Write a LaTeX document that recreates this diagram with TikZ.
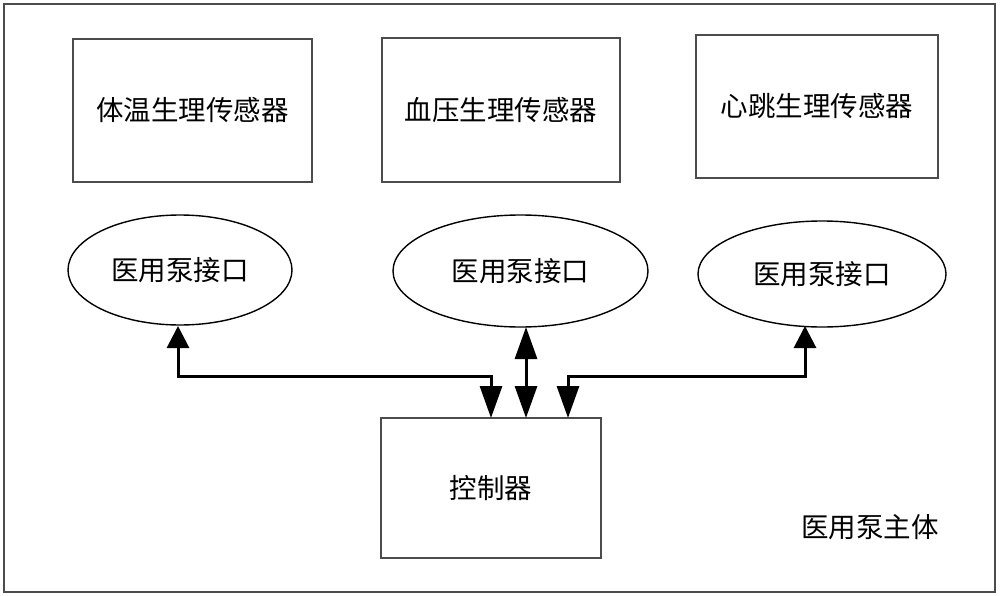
\documentclass[tikz,border=0pt]{standalone}
\usepackage{fontspec}
\newfontfamily\cjk{Noto Sans CJK SC}
\usetikzlibrary{arrows.meta,shapes.geometric}
\begin{document}
\begin{tikzpicture}[x=1pt,y=-1pt,
  lbl/.style={font=\cjk\fontsize{27.5}{32}\selectfont},
  sensor/.style={draw=black!70,line width=1.4pt,minimum width=239pt,minimum height=143pt,inner sep=0pt,lbl},
  port/.style={ellipse,draw=black,line width=1.4pt,minimum width=224pt,minimum height=110pt,inner sep=0pt,lbl},
  stip/.tip={Triangle[length=22pt,width=22pt]},
  ltip/.tip={Triangle[length=32pt,width=22pt]},
  slink/.style={line width=3pt,stip-ltip},
  dlink/.style={line width=3pt,ltip-ltip}]
\useasboundingbox (0,0) rectangle (1000,596);
\node[draw=black!70,line width=1.4pt,minimum width=991pt,minimum height=588pt,inner sep=0pt] (frame) at (499.5,298) {};
\node[sensor] (s1) at (192.5,110.5) {体温生理传感器};
\node[sensor,minimum width=238pt,minimum height=144pt] (s2) at (501,110) {血压生理传感器};
\node[sensor,minimum width=242pt] (s3) at (817,106.5) {心跳生理传感器};
\node[port] (p1) at (180,270) {医用泵接口};
\node[port,minimum width=255pt,minimum height=112pt] (p2) at (520.5,271) {医用泵接口};
\node[port,minimum width=248pt,minimum height=106pt] (p3) at (822,274) {医用泵接口};
\node[draw=black!70,line width=1.4pt,minimum width=220pt,minimum height=140pt,inner sep=0pt,lbl] (c) at (491,488) {控制器};
\node[lbl,anchor=center] (body) at (870,527) {医用泵主体};
\coordinate (c1) at (491,418);
\coordinate (c2) at (526,418);
\coordinate (c3) at (568,418);
\coordinate (e1) at (178,326);
\coordinate (e2) at (526,327);
\coordinate (e3) at (805,326);
\draw[slink] (e1) |- (c1 |- 0,376) -- (c1);
\draw[dlink] (e2) -- (c2);
\draw[slink] (e3) |- (c3 |- 0,376) -- (c3);
\end{tikzpicture}
\end{document}
